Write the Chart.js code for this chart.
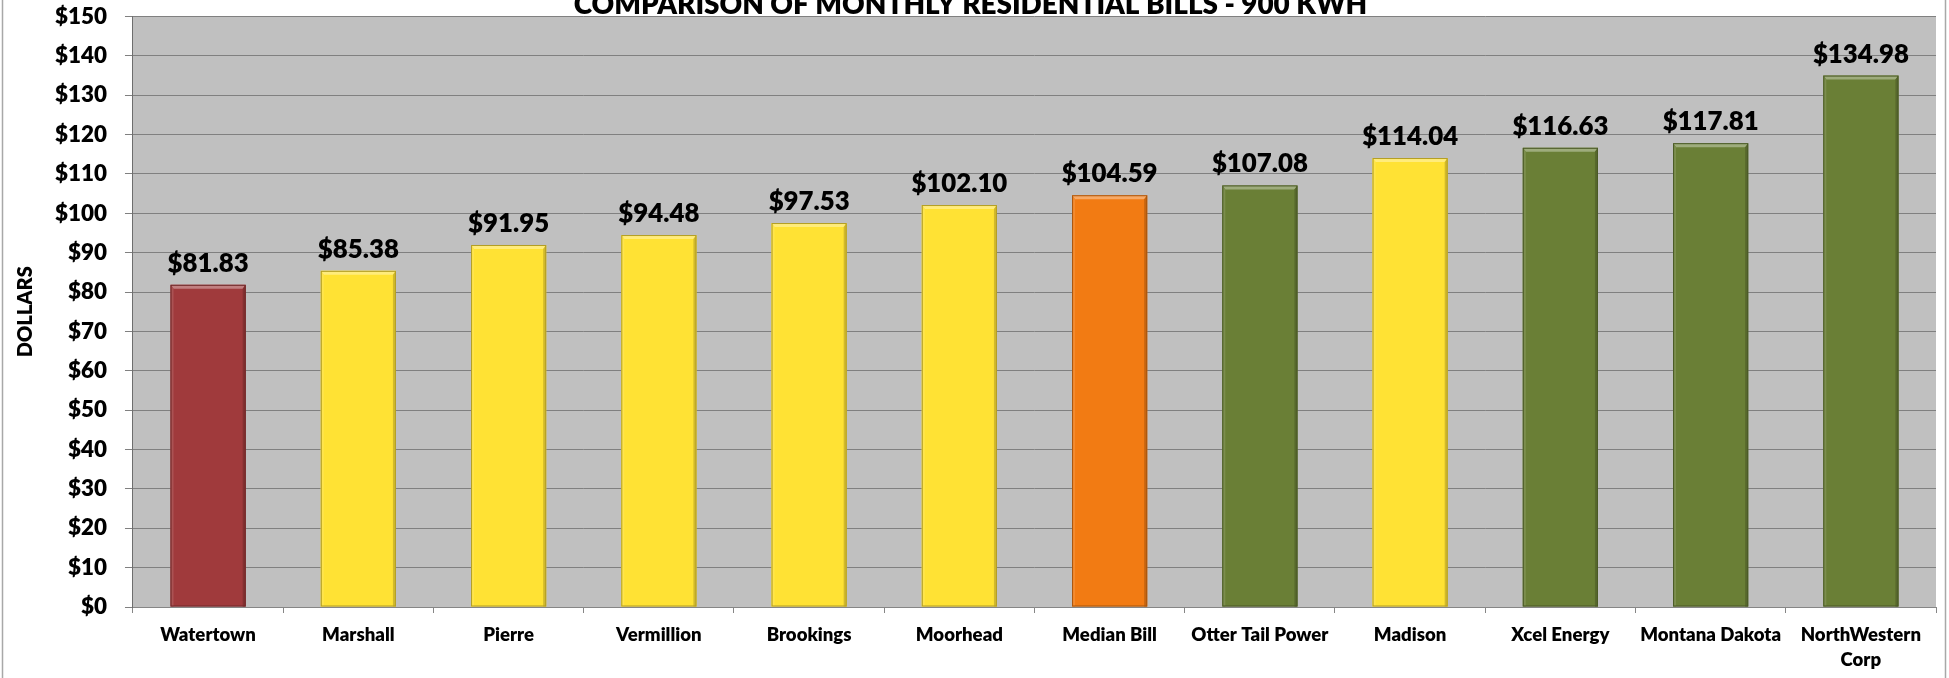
<!DOCTYPE html>
<html><head><meta charset="utf-8">
<script src="https://cdn.jsdelivr.net/npm/chart.js@4/dist/chart.umd.min.js"></script>
<style>
html,body{margin:0;padding:0;width:1949px;height:678px;overflow:hidden;background:#fff;}
#wrap{position:absolute;left:0;top:-15px;width:1949px;height:700px;}
</style></head><body>
<div id="wrap"><canvas id="c" width="1949" height="700"></canvas></div>
<script>
// ---- data ----
const chartTitle = 'COMPARISON OF MONTHLY RESIDENTIAL BILLS - 900 KWH';
const yAxisTitle = 'DOLLARS';
const categories = ['Watertown','Marshall','Pierre','Vermillion','Brookings','Moorhead','Median Bill','Otter Tail Power','Madison','Xcel Energy','Montana Dakota',['NorthWestern','Corp']];
const bills = [81.83, 85.38, 91.95, 94.48, 97.53, 102.10, 104.59, 107.08, 114.04, 116.63, 117.81, 134.98];
const yTickValues = [0,10,20,30,40,50,60,70,80,90,100,110,120,130,140,150];
const yTickLabels = ['$0','$10','$20','$30','$40','$50','$60','$70','$80','$90','$100','$110','$120','$130','$140','$150'];

// ---- styles ----
const RED='#A03A3C', YEL='#FFE234', ORA='#F27B13', GRN='#6A7F36';
const barColors = [RED,YEL,YEL,YEL,YEL,YEL,ORA,GRN,YEL,GRN,GRN,GRN];
const FONT = 'Lato';
const W = 800;

const mctx = document.createElement('canvas').getContext('2d');
function measure(text, size){ mctx.font = W+' '+size+'px '+FONT; return mctx.measureText(text).width; }
function fitSize(text, target){ return 100 * target / measure(text,100); }
const titleSize = fitSize(chartTitle, 794);
const tickSize = fitSize('$150', 52);
const valueSize = fitSize('$134.98', 96);
const catSize = fitSize('Montana Dakota', 141);
const yTitleSize = fitSize(yAxisTitle, 91);

function mix(hex, other, t){
  const a=parseInt(hex.slice(1),16), b=parseInt(other.slice(1),16);
  const r=Math.round(((a>>16)&255)*(1-t)+((b>>16)&255)*t);
  const g=Math.round(((a>>8)&255)*(1-t)+((b>>8)&255)*t);
  const bl=Math.round((a&255)*(1-t)+(b&255)*t);
  return 'rgb('+r+','+g+','+bl+')';
}

const bgPlugin = {
  id:'bg',
  beforeDraw(chart){
    const {ctx, chartArea:a} = chart;
    ctx.save();
    ctx.fillStyle='#ffffff';
    ctx.fillRect(0,0,chart.width,chart.height);
    ctx.fillStyle='#C0C0C0';
    ctx.fillRect(a.left,a.top,a.right-a.left,a.bottom-a.top);
    ctx.restore();
  },
  afterDraw(chart){
    const ctx=chart.ctx;
    ctx.save();
    ctx.strokeStyle='#a8a8a8';
    ctx.lineWidth=1.5;
    ctx.beginPath();
    ctx.moveTo(2.5,0); ctx.lineTo(2.5,chart.height);
    ctx.moveTo(1945.5,0); ctx.lineTo(1945.5,chart.height);
    ctx.stroke();
    ctx.restore();
  }
};

const bevelPlugin = {
  id:'bevel',
  afterDatasetsDraw(chart){
    const ctx=chart.ctx;
    const meta=chart.getDatasetMeta(0);
    ctx.save();
    meta.data.forEach((bar,i)=>{
      const p=bar.getProps(['x','y','base','width'],true);
      const x0=p.x-p.width/2, x1=p.x+p.width/2, t=p.y, b=p.base;
      const c=barColors[i];
      const bv=4, sv=3;
      ctx.fillStyle=mix(c,'#ffffff',0.35);
      ctx.beginPath();
      ctx.moveTo(x0,t); ctx.lineTo(x1,t); ctx.lineTo(x1-sv,t+bv); ctx.lineTo(x0+sv,t+bv); ctx.closePath(); ctx.fill();
      ctx.fillStyle=mix(c,'#ffffff',0.12);
      ctx.beginPath();
      ctx.moveTo(x0,t); ctx.lineTo(x0+sv,t+bv); ctx.lineTo(x0+sv,b); ctx.lineTo(x0,b); ctx.closePath(); ctx.fill();
      ctx.fillStyle=mix(c,'#000000',0.18);
      ctx.beginPath();
      ctx.moveTo(x1,t); ctx.lineTo(x1-sv,t+bv); ctx.lineTo(x1-sv,b); ctx.lineTo(x1,b); ctx.closePath(); ctx.fill();
      ctx.strokeStyle=mix(c,'#000000',0.3);
      ctx.lineWidth=1;
      ctx.strokeRect(x0+0.5,t+0.5,p.width-1,b-t-1);
    });
    ctx.restore();
  }
};

const valuePlugin = {
  id:'values',
  afterDatasetsDraw(chart){
    const ctx=chart.ctx;
    const meta=chart.getDatasetMeta(0);
    ctx.save();
    ctx.font=W+' '+valueSize+'px '+FONT;
    ctx.fillStyle='#000';
    ctx.textAlign='center';
    ctx.textBaseline='alphabetic';
    meta.data.forEach((bar,i)=>{
      ctx.fillText('$'+bills[i].toFixed(2), bar.x, bar.y-13);
    });
    ctx.restore();
  }
};

new Chart(document.getElementById('c'), {
  type:'bar',
  data:{
    labels:categories,
    datasets:[{
      data:bills,
      backgroundColor:barColors,
      borderWidth:0,
      categoryPercentage:1,
      barPercentage:0.5
    }]
  },
  options:{
    responsive:false,
    animation:false,
    devicePixelRatio:1,
    layout:{padding:{left:5,right:13,top:0,bottom:4}},
    plugins:{
      legend:{display:false},
      tooltip:{enabled:false},
      title:{display:true,text:chartTitle,color:'#000',
        font:{family:FONT,size:titleSize,weight:W,lineHeight:'20px'},
        padding:{top:10,bottom:1}}
    },
    scales:{
      x:{
        grid:{display:true,drawOnChartArea:false,drawTicks:true,tickLength:6,color:'#868686',offset:true},
        border:{display:true,color:'#868686'},
        ticks:{color:'#000',font:{family:FONT,size:catSize,weight:W,lineHeight:'25px'},padding:9,maxRotation:0,minRotation:0,autoSkip:false}
      },
      y:{
        min:0,max:150,
        afterBuildTicks:(s)=>{ s.ticks = yTickValues.map(v=>({value:v})); },
        grid:{color:'#808080',tickLength:8},
        border:{display:true,color:'#6e6e6e'},
        ticks:{color:'#000',font:{family:FONT,size:tickSize,weight:W},padding:18,
          callback:(v)=>{ const i=yTickValues.indexOf(v); return i>=0?yTickLabels[i]:''; }},
        title:{display:true,text:yAxisTitle,color:'#000',
          font:{family:FONT,size:yTitleSize,weight:W,lineHeight:'18px'},
          padding:{top:11.5,bottom:2.5}}
      }
    }
  },
  plugins:[bgPlugin,bevelPlugin,valuePlugin]
});
</script>
</body></html>
